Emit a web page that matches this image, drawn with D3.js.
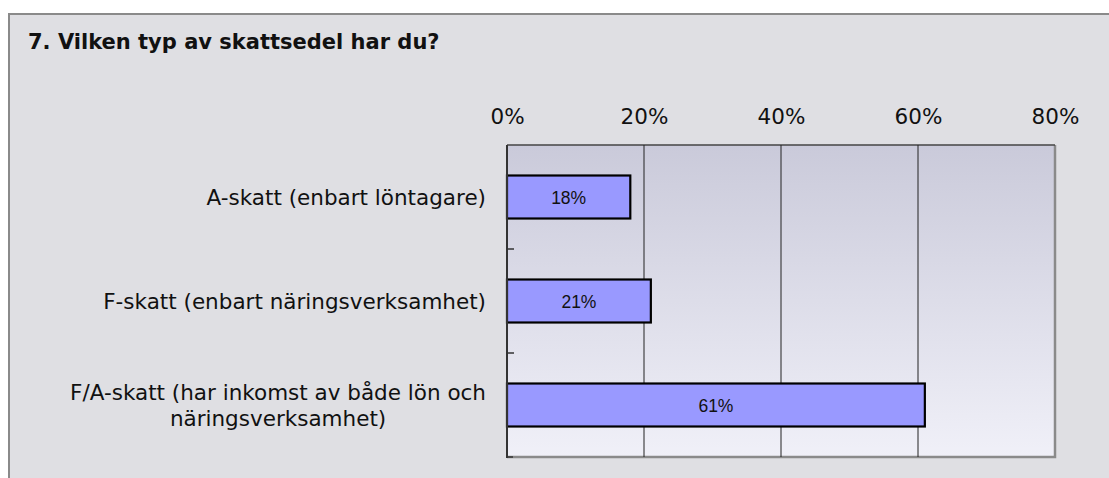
<!DOCTYPE html>
<html><head><meta charset="utf-8">
<script src="https://cdn.jsdelivr.net/npm/d3@7"></script>
<style>html,body{margin:0;padding:0;background:#fff;}svg{display:block;}</style>
</head><body>
<script>
const title = "7. Vilken typ av skattsedel har du?";
const categories = [
  ["A-skatt (enbart löntagare)"],
  ["F-skatt (enbart näringsverksamhet)"],
  ["F/A-skatt (har inkomst av både lön och", "näringsverksamhet)"]
];
const values = [0.18, 0.21, 0.61];
const valueLabels = ["18%", "21%", "61%"];
const tickValues = [0, 0.2, 0.4, 0.6, 0.8];

const W = 1109, H = 478;
const FONT = "DejaVu Sans, Verdana, sans-serif";
const svg = d3.select("body").append("svg").attr("width", W).attr("height", H);
const defs = svg.append("defs");
const grad = defs.append("linearGradient").attr("id","bg").attr("x1",0).attr("y1",0).attr("x2",0).attr("y2",1);
grad.append("stop").attr("offset","0%").attr("stop-color","#cacada");
grad.append("stop").attr("offset","100%").attr("stop-color","#f0f0f8");

// outer panel
svg.append("rect").attr("x",0).attr("y",0).attr("width",W).attr("height",H).attr("fill","#fff");
svg.append("rect").attr("x",9).attr("y",14).attr("width",W+10).attr("height",H+10)
  .attr("fill","#dfdfe3").attr("stroke","#8a8a8a").attr("stroke-width",2);

svg.append("text").attr("x",28).attr("y",49).text(title)
  .attr("font-family",FONT).attr("font-weight","bold")
  .attr("font-size",21).attr("fill","#111");

const m = {left:507, top:145, right:1055, bottom:457};
const x = d3.scaleLinear().domain([0,0.8]).range([m.left, m.right]);
const y = d3.scaleBand().domain(d3.range(categories.length)).range([m.top, m.bottom]).paddingInner(0).paddingOuter(0);

// plot background
svg.append("rect").attr("x",m.left).attr("y",m.top).attr("width",m.right-m.left).attr("height",m.bottom-m.top)
  .attr("fill","url(#bg)");
// right & bottom gray border
svg.append("path").attr("d",`M${m.right},${m.top}V${m.bottom}H${m.left}`).attr("fill","none")
  .attr("stroke","#8a8a8a").attr("stroke-width",2.5);
// top border
svg.append("line").attr("x1",m.left).attr("x2",m.right).attr("y1",m.top).attr("y2",m.top)
  .attr("stroke","#444").attr("stroke-width",1.5);

// grid
svg.append("g").selectAll("line").data(tickValues.slice(1,-1)).join("line")
  .attr("x1",d=>x(d)).attr("x2",d=>x(d)).attr("y1",m.top).attr("y2",m.bottom)
  .attr("stroke","#222").attr("stroke-width",1);

// top axis
const xAxis = svg.append("g").attr("transform",`translate(0,${m.top})`)
  .call(d3.axisTop(x).tickValues(tickValues).tickFormat(d3.format(".0%")).tickSize(0).tickPadding(21));
xAxis.select(".domain").remove();
xAxis.selectAll("text").attr("font-family",FONT).attr("font-size",21.5).attr("fill","#111");

// bars
const bh = 43;
svg.append("g").selectAll("rect").data(values).join("rect")
  .attr("x",x(0)).attr("y",(d,i)=>y(i)+y.bandwidth()/2-bh/2)
  .attr("width",d=>x(d)-x(0)).attr("height",bh)
  .attr("fill","#9999ff").attr("stroke","#000").attr("stroke-width",2.2);
svg.append("g").selectAll("text").data(values).join("text")
  .attr("x",d=>(x(0)+x(d))/2).attr("y",(d,i)=>y(i)+y.bandwidth()/2+6.5)
  .attr("text-anchor","middle").attr("font-family","Liberation Sans, Arial, sans-serif")
  .attr("font-size",17.5).attr("fill","#111").text((d,i)=>valueLabels[i]);

// left axis
svg.append("line").attr("x1",m.left).attr("x2",m.left).attr("y1",m.top).attr("y2",m.bottom+1)
  .attr("stroke","#333").attr("stroke-width",2);
svg.append("g").selectAll("line").data(d3.range(1,categories.length)).join("line")
  .attr("x1",m.left).attr("x2",m.left+7).attr("y1",i=>y(i)).attr("y2",i=>y(i))
  .attr("stroke","#333").attr("stroke-width",1.5);
svg.append("line").attr("x1",m.left-1).attr("x2",m.left+6).attr("y1",m.bottom).attr("y2",m.bottom)
  .attr("stroke","#333").attr("stroke-width",1.5);

// category labels
const labelRight = 486, lh = 26;
const lg = svg.append("g");
categories.forEach((lines,i)=>{
  const cy = y(i)+y.bandwidth()/2;
  const g = lg.append("g");
  const y0 = cy - (lines.length-1)*lh/2 + 7.5;
  g.selectAll("text").data(lines).join("text")
    .attr("y",(d,k)=>y0+k*lh).text(d=>d)
    .attr("font-family",FONT).attr("font-size",21.5).attr("fill","#111");
  const w0 = g.select("text").node().getComputedTextLength();
  g.selectAll("text").attr("text-anchor","middle").attr("x",labelRight - w0/2);
});
</script>
</body></html>
